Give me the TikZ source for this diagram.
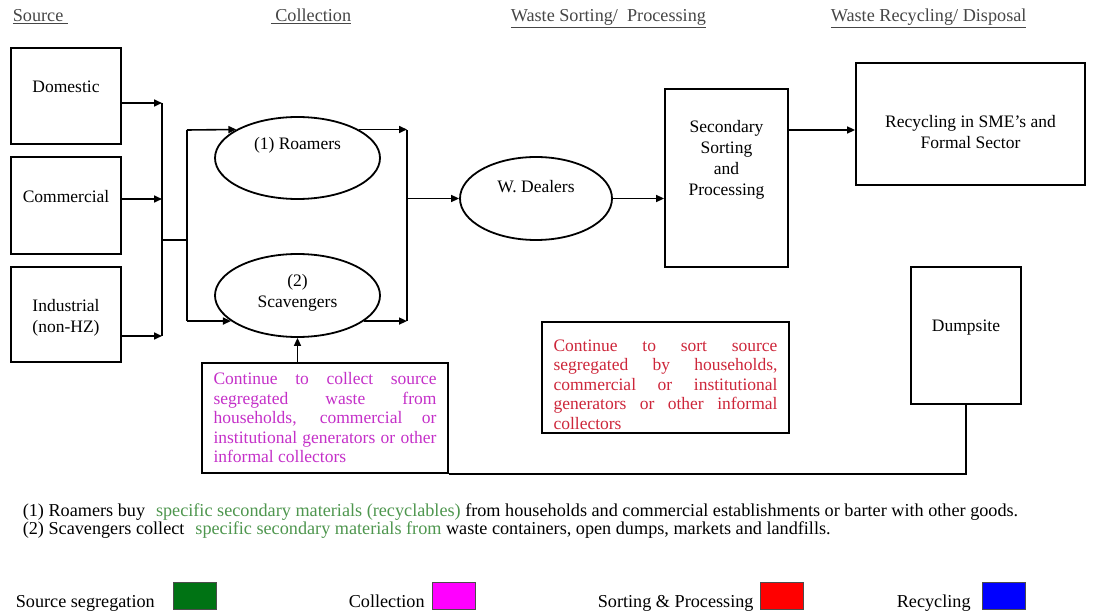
\documentclass[tikz,border=0pt]{standalone}
\usepackage{fontspec}
\setmainfont{Liberation Serif}
\usetikzlibrary{arrows.meta,shapes.geometric}
\hyphenpenalty=10000
\exhyphenpenalty=10000
\definecolor{collmag}{RGB}{196,48,200}
\definecolor{sortred}{RGB}{205,38,58}
\definecolor{notegreen}{RGB}{78,150,78}
\definecolor{headgray}{RGB}{70,70,70}
\definecolor{srcgreen}{RGB}{0,115,20}
\definecolor{legmag}{RGB}{255,0,255}
\definecolor{legred}{RGB}{255,0,0}
\definecolor{legblue}{RGB}{0,0,255}
\tikzset{
	stage/.style={draw, line width=1.8pt, inner sep=0pt},
	actor/.style={stage, ellipse, minimum width=165pt, minimum height=82pt},
	note/.style={draw, line width=1.8pt, inner xsep=11.5pt, inner ysep=0pt,
		align=justify, font=\fontsize{17.5}{19.5}\selectfont},
	legsq/.style={draw=black!70, line width=1pt, minimum width=43pt,
		minimum height=27pt, inner sep=0pt},
	heading/.style={anchor=base west, inner sep=0pt, text=headgray,
		font=\fontsize{18.2}{21}\selectfont},
	plain/.style={anchor=base west, inner sep=0pt,
		font=\fontsize{18.2}{21}\selectfont}
}
\begin{document}
\begin{tikzpicture}[
	x=1pt, y=-1pt,
	>={Triangle[length=8pt,width=7pt]},
	line width=1.6pt,
	line join=miter,
	font=\fontsize{17.5}{21}\selectfont
	]
	\useasboundingbox (0,0) rectangle (1097,612);
	% headings
	\node[heading] (hsrc) at (12,22) {\underline{Source\ }};
	\node[heading] (hcoll) at (270,22) {\underline{\ Collection}};
	\node[heading] (hsort) at (510,22) {\underline{Waste Sorting/\ \ Processing}};
	\node[heading] (hrec) at (830,22) {\underline{Waste Recycling/ Disposal}};
	% sources
	\node[stage, minimum width=110pt, minimum height=96pt] (dom) at (66,96) {};
	\node[yshift=9pt] (domtxt) at (dom) {Domestic};
	\node[stage, minimum width=110pt, minimum height=97pt] (com) at (66,205.5) {};
	\node[yshift=8.5pt] (comtxt) at (com) {Commercial};
	\node[stage, minimum width=110pt, minimum height=95pt] (ind) at (66,314.5) {};
	\node[yshift=-3.5pt, align=center] (indtxt) at (ind) {Industrial\\(non-HZ)};
	% collectors
	\node[actor] (roam) at (297.5,158) {};
	\node[yshift=13pt] (roamtxt) at (roam) {(1) Roamers};
	\node[actor, minimum height=83pt] (scav) at (297.5,295.5) {};
	\node[yshift=3pt, align=center] (scavtxt) at (scav) {(2)\\Scavengers};
	\node[actor, minimum width=152pt, minimum height=83pt] (wd) at (536,198.5) {};
	\node[yshift=11.5pt] (wdtxt) at (wd) {W. Dealers};
	% processing and end points
	\node[stage, minimum width=123pt, minimum height=178pt] (sec) at (726.5,178) {};
	\node[yshift=18pt, align=center] (sectxt) at (sec) {Secondary\\Sorting\\and\\Processing};
	\node[stage, minimum width=229pt, minimum height=122pt] (rec) at (970.5,124) {};
	\node[yshift=-8.5pt, align=center] (rectxt) at (rec) {Recycling in SME's and\\Formal Sector};
	\node[stage, minimum width=110pt, minimum height=137pt] (dump) at (966,335.5) {};
	\node[yshift=7.5pt] (dumptxt) at (dump) {Dumpsite};
	% notes
	\node[note, text=collmag, text width=223pt, minimum height=110pt] (collnote) at (325,418)
		{Continue to collect source\linebreak segregated waste from\linebreak households, commercial or\linebreak institutional generators or other\linebreak informal collectors};
	\node[stage, minimum width=247pt, minimum height=111pt] (sortnote) at (665.5,377.5) {};
	\node[text=sortred, text width=224pt, align=justify, yshift=-7pt, inner sep=0pt,
		font=\fontsize{17.5}{19.5}\selectfont] (sorttxt) at (sortnote)
		{Continue to sort source\linebreak segregated by households,\linebreak commercial or institutional\linebreak generators or other informal\linebreak collectors};
	% bus lines
	\coordinate (in1) at (162,103);
	\coordinate (in2) at (162,199);
	\coordinate (in3) at (162,336);
	\coordinate (inmid) at (162,240);
	\coordinate (coltop) at (187,130);
	\coordinate (colbot) at (187,321);
	\coordinate (outtop) at (407,130);
	\coordinate (outbot) at (407,321);
	\coordinate (outmid) at (407,198.5);
	\coordinate (recin) at ([yshift=-6pt]rec.west);
	\begin{scope}[->]
		\draw (dom.east |- in1) -- (in1);
		\draw (com.east |- in2) -- (in2);
		\draw (ind.east |- in3) -- (in3);
		\draw (coltop) -- (roam.155);
		\draw (colbot) -- (scav.201);
		\draw (roam.25) -- (roam.25 -| outtop);
		\draw (scav.339) -- (scav.339 -| outbot);
		\draw (outmid) -- (wd);
		\draw (wd) -- (sec.west |- wd);
		\draw (sec.east |- recin) -- (recin);
		\draw (collnote.north -| scav.south) -- (scav.south);
	\end{scope}
	\draw (in1) -- (in3);
	\draw (inmid) -- (inmid -| coltop);
	\draw (coltop) -- (colbot);
	\draw (outtop) -- (outbot);
	\draw (dump.south) |- (collnote.south east);
	% footnotes
	\node[plain] (fn1) at (22,516.5)
		{(1) Roamers buy\hspace{0.6em}\textcolor{notegreen}{specific secondary materials (recyclables)} from households and commercial establishments or barter with other goods.};
	\node[plain] (fn2) at (22,534.5)
		{(2) Scavengers collect\hspace{0.6em}\textcolor{notegreen}{specific secondary materials from} waste containers, open dumps, markets and landfills.};
	% legend
	\node[plain] (lgsrc) at (15,607.5) {Source segregation};
	\node[legsq, fill=srcgreen] (lgsrcsq) at (195,595.5) {};
	\node[plain] (lgcoll) at (348,607.5) {Collection};
	\node[legsq, fill=legmag] (lgcollsq) at (454,595.5) {};
	\node[plain] (lgsort) at (597,607.5) {Sorting \& Processing};
	\node[legsq, fill=legred] (lgsortsq) at (781.5,595.5) {};
	\node[plain] (lgrec) at (896,607.5) {Recycling};
	\node[legsq, fill=legblue] (lgrecsq) at (1003.5,595.5) {};
\end{tikzpicture}
\end{document}
